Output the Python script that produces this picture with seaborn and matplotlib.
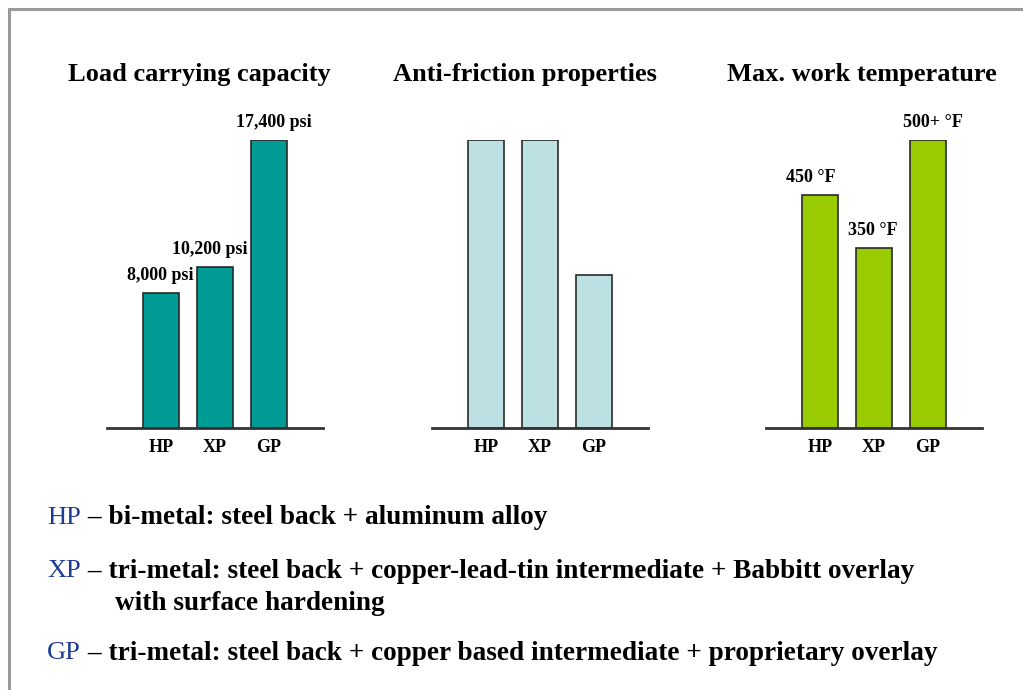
import matplotlib
matplotlib.use("Agg")
import matplotlib.pyplot as plt
import seaborn as sns
from matplotlib.lines import Line2D

# data (bars are drawn not to scale, heights relative to tallest = 10)
grades = ["HP", "XP", "GP"]
load_height = [4.7, 5.6, 10.0]
load_labels = ["8,000 psi", "10,200 psi", "17,400 psi"]
friction_height = [10.0, 10.0, 5.3]
temp_height = [8.1, 6.25, 10.0]
temp_labels = ["450 \u00b0F", "350 \u00b0F", "500+ \u00b0F"]

titles = ["Load carrying capacity", "Anti-friction properties", "Max. work temperature"]
notes = [
    ("HP", " \u2013 bi-metal: steel back + aluminum alloy"),
    ("XP", " \u2013 tri-metal: steel back + copper-lead-tin intermediate + Babbitt overlay"),
    ("GP", " \u2013 tri-metal: steel back + copper based intermediate + proprietary overlay"),
]
note_extra = "with surface hardening"

sns.set_style("white")
plt.rcParams["font.family"] = ["Liberation Serif", "DejaVu Serif"]
plt.rcParams["text.color"] = "black"
plt.rcParams["xtick.color"] = "black"

W, H = 1023, 690
fig = plt.figure(figsize=(W / 100, H / 100), dpi=100)


def fx(px):
    return px / W


def fy(py):
    return 1 - py / H


base_y = 428
top_y = 140
lefts = [107, 432, 766]
colors = ["#009B95", "#BDE0E2", "#99CC00"]
heights = [load_height, friction_height, temp_height]
labels = [load_labels, None, temp_labels]
label_dx = [[-1, -5, 5], None, [-9, -1, 5]]
title_cx = [199, 525, 862]

for i in range(3):
    ax = fig.add_axes([fx(lefts[i]), fy(base_y), fx(216), (base_y - top_y) / H])
    sns.barplot(x=grades, y=heights[i], color=colors[i], edgecolor="#2a2a2a",
                linewidth=1.2, width=0.685, saturation=1, ax=ax)
    ax.set_xlim(-1, 3)
    ax.set_ylim(0, 10)
    for s in ["top", "left", "right"]:
        ax.spines[s].set_visible(False)
    ax.spines["bottom"].set_color("#333333")
    ax.spines["bottom"].set_linewidth(2)
    ax.set_yticks([])
    ax.tick_params(axis="x", length=0, pad=8)
    for t in ax.get_xticklabels():
        t.set_fontsize(13)
        t.set_fontweight("bold")
    if labels[i] is not None:
        for j, txt in enumerate(labels[i]):
            ax.annotate(txt, (j, heights[i][j]), xytext=(label_dx[i][j] * 0.72, 12.5),
                        textcoords="offset points", ha="center", va="center",
                        fontsize=13, fontweight="bold", annotation_clip=False)
    fig.text(fx(title_cx[i]), fy(75), titles[i], ha="center", va="center",
             fontsize=19, fontweight="bold")

# legend notes below the charts
renderer = fig.canvas.get_renderer()
note_y = [518, 571, 653]
for (code, rest), y in zip(notes, note_y):
    t = fig.text(fx(47), fy(y), code, color="#1F3C95", fontsize=19, va="center")
    bb = t.get_window_extent(renderer)
    fig.text(bb.x1 / W, fy(y), rest, fontsize=19.6, fontweight="bold", va="center")
fig.text(fx(115), fy(604), note_extra, fontsize=19.6, fontweight="bold", va="center")

# frame around the slide
fig.add_artist(Line2D([fx(8.5), 1], [fy(8.5), fy(8.5)], color="#999999", lw=2.2))
fig.add_artist(Line2D([fx(8.5), fx(8.5)], [fy(8.5), 0], color="#999999", lw=2.2))

fig.savefig("out.png", dpi=100)
